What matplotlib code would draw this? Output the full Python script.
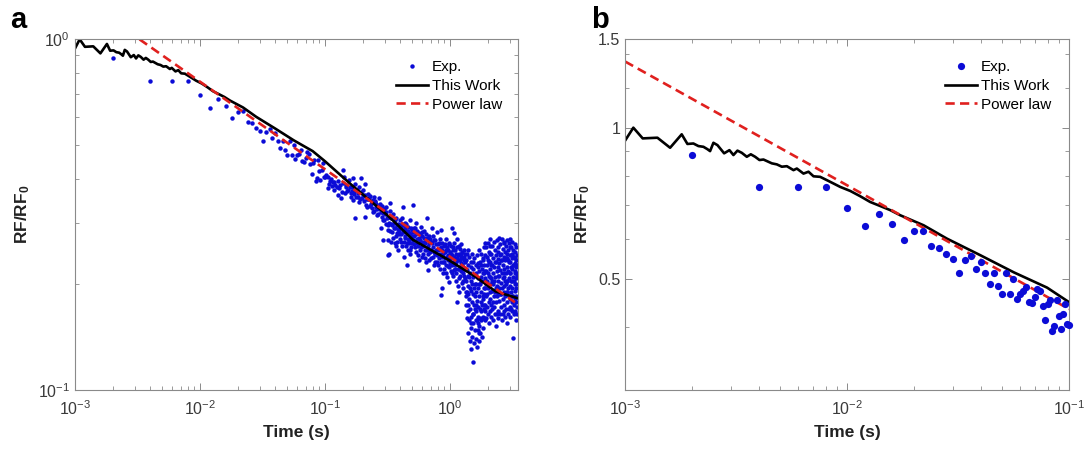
import numpy as np
import matplotlib
matplotlib.use("Agg")
import matplotlib.pyplot as plt
from matplotlib.ticker import FixedLocator, NullFormatter, LogLocator

plt.rcParams['font.family'] = ['Liberation Sans', 'DejaVu Sans']
plt.rcParams['mathtext.fontset'] = 'custom'
plt.rcParams['mathtext.rm'] = 'Liberation Sans'
plt.rcParams['mathtext.it'] = 'Liberation Sans:italic'
plt.rcParams['mathtext.bf'] = 'Liberation Sans:bold'

BLUE, RED, GREY, TXT = "#0b0bd6", "#e0201e", "#8a8a8a", "#3a3a3a"

# ---- experimental points, first 0.1 s (2 ms sampling) ----
exp_t_early = [0.002, 0.004, 0.006, 0.008, 0.010, 0.012, 0.014, 0.016, 0.018, 0.020,
               0.022, 0.024, 0.026, 0.028, 0.030, 0.032, 0.034, 0.036, 0.038, 0.040,
               0.042, 0.044, 0.046, 0.048, 0.050, 0.052, 0.054, 0.056, 0.058, 0.060,
               0.062, 0.064, 0.066, 0.068, 0.070, 0.072, 0.074, 0.076, 0.078, 0.080,
               0.082, 0.084, 0.086, 0.088, 0.090, 0.092, 0.094, 0.096, 0.098, 0.100]
exp_y_early = [0.882, 0.760, 0.762, 0.762, 0.692, 0.636, 0.674, 0.644, 0.598, 0.621,
               0.623, 0.581, 0.576, 0.560, 0.547, 0.514, 0.544, 0.555, 0.522, 0.541,
               0.514, 0.489, 0.514, 0.483, 0.467, 0.514, 0.467, 0.500, 0.456, 0.467,
               0.472, 0.482, 0.450, 0.447, 0.460, 0.476, 0.472, 0.441, 0.414, 0.445,
               0.454, 0.394, 0.403, 0.454, 0.421, 0.397, 0.425, 0.445, 0.406, 0.405]

# ---- experimental points beyond 0.1 s (panel a only) ----
exp_mid = [(0.105, 0.406), (0.108, 0.388), (0.115, 0.393), (0.105, 0.376), (0.118, 0.372),
           (0.130, 0.376), (0.126, 0.360), (0.138, 0.424), (0.134, 0.352), (0.143, 0.406),
           (0.146, 0.380), (0.156, 0.397), (0.162, 0.364), (0.168, 0.402), (0.175, 0.388),
           (0.188, 0.380), (0.194, 0.402), (0.203, 0.372), (0.210, 0.388), (0.226, 0.352),
           (0.233, 0.340), (0.251, 0.344), (0.255, 0.333), (0.272, 0.352), (0.281, 0.326),
           (0.291, 0.319), (0.306, 0.333), (0.299, 0.306), (0.317, 0.312), (0.175, 0.309),
           (0.210, 0.312), (0.281, 0.289), (0.317, 0.286), (0.291, 0.268), (0.317, 0.268),
           (0.317, 0.243), (0.242, 0.322), (0.262, 0.316), (0.197, 0.352), (0.188, 0.344),
           (0.168, 0.348), (0.218, 0.333), (0.112, 0.400), (0.121, 0.385), (0.128, 0.395),
           (0.150, 0.370), (0.158, 0.380), (0.165, 0.370), (0.172, 0.362), (0.180, 0.372),
           (0.185, 0.355), (0.200, 0.360), (0.215, 0.350), (0.222, 0.362), (0.238, 0.345),
           (0.245, 0.355), (0.258, 0.340), (0.266, 0.330), (0.275, 0.340), (0.285, 0.335),
           (0.295, 0.328), (0.310, 0.322),
           (0.102, 0.410), (0.110, 0.395), (0.114, 0.382), (0.119, 0.392), (0.124, 0.378),
           (0.132, 0.385), (0.136, 0.368), (0.140, 0.390), (0.145, 0.365), (0.148, 0.385),
           (0.153, 0.372), (0.160, 0.355), (0.163, 0.378), (0.170, 0.370), (0.177, 0.355),
           (0.182, 0.365), (0.190, 0.350), (0.195, 0.368), (0.205, 0.345), (0.208, 0.360),
           (0.213, 0.338), (0.220, 0.350), (0.228, 0.335), (0.230, 0.358), (0.236, 0.330),
           (0.240, 0.348), (0.248, 0.325), (0.253, 0.345), (0.260, 0.328), (0.264, 0.318),
           (0.270, 0.335), (0.278, 0.322), (0.283, 0.312), (0.288, 0.330), (0.293, 0.305),
           (0.300, 0.318), (0.305, 0.298), (0.312, 0.310), (0.318, 0.295)]

exp_band = [(0.322, 0.300), (0.328, 0.325), (0.333, 0.285), (0.338, 0.310), (0.343, 0.295),
            (0.348, 0.272), (0.352, 0.318), (0.357, 0.300), (0.362, 0.262), (0.366, 0.290),
            (0.371, 0.310), (0.376, 0.280), (0.381, 0.298), (0.386, 0.250), (0.390, 0.285),
            (0.395, 0.305), (0.398, 0.270), (0.330, 0.342), (0.327, 0.244),
            (0.403, 0.290), (0.408, 0.265), (0.413, 0.310), (0.418, 0.282), (0.423, 0.295),
            (0.428, 0.240), (0.433, 0.275), (0.438, 0.300), (0.443, 0.258), (0.448, 0.285),
            (0.452, 0.227), (0.457, 0.270), (0.462, 0.292), (0.467, 0.262), (0.472, 0.280),
            (0.477, 0.305), (0.482, 0.250), (0.487, 0.272), (0.492, 0.286), (0.497, 0.262),
            (0.420, 0.333),
            (0.503, 0.338), (0.508, 0.268), (0.515, 0.290), (0.522, 0.255), (0.530, 0.278),
            (0.537, 0.300), (0.545, 0.262), (0.552, 0.242), (0.560, 0.280), (0.568, 0.235),
            (0.575, 0.268), (0.582, 0.292), (0.590, 0.255), (0.598, 0.275), (0.606, 0.245),
            (0.614, 0.265), (0.622, 0.285), (0.630, 0.250), (0.638, 0.270), (0.646, 0.232),
            (0.655, 0.310), (0.663, 0.258), (0.672, 0.220), (0.680, 0.275), (0.690, 0.248),
            (0.700, 0.265), (0.710, 0.238), (0.720, 0.290), (0.730, 0.255), (0.740, 0.228),
            (0.750, 0.268), (0.760, 0.245), (0.770, 0.260), (0.780, 0.232), (0.790, 0.282),
            (0.800, 0.250), (0.810, 0.238), (0.820, 0.262), (0.830, 0.222), (0.840, 0.187),
            (0.845, 0.255), (0.850, 0.286),
            (0.860, 0.240), (0.870, 0.196), (0.880, 0.215), (0.890, 0.258), (0.900, 0.232),
            (0.910, 0.248), (0.920, 0.228), (0.930, 0.270), (0.940, 0.240), (0.950, 0.210),
            (0.960, 0.250), (0.970, 0.226), (0.980, 0.203), (0.990, 0.262), (1.000, 0.238),
            (1.010, 0.218), (1.020, 0.245), (1.030, 0.289), (1.040, 0.228), (1.050, 0.255),
            (1.060, 0.212), (1.070, 0.280), (1.080, 0.240), (1.090, 0.222),
            (1.100, 0.250), (1.110, 0.205), (1.120, 0.232), (1.130, 0.270), (1.140, 0.178),
            (1.150, 0.242), (1.160, 0.198), (1.170, 0.222), (1.180, 0.258), (1.190, 0.190),
            (1.200, 0.235), (1.210, 0.212), (1.220, 0.245), (1.230, 0.260), (1.240, 0.202),
            (1.250, 0.228), (1.260, 0.215), (1.270, 0.238), (1.280, 0.195), (1.290, 0.250),
            (1.300, 0.222), (1.310, 0.208), (1.320, 0.232), (1.330, 0.185),
            (0.325, 0.312), (0.335, 0.298), (0.345, 0.282), (0.355, 0.290), (0.360, 0.305),
            (0.368, 0.275), (0.374, 0.295), (0.379, 0.265), (0.384, 0.288), (0.393, 0.278),
            (0.400, 0.296), (0.340, 0.265), (0.370, 0.258),
            (0.405, 0.278), (0.410, 0.298), (0.415, 0.258), (0.425, 0.285), (0.430, 0.265),
            (0.436, 0.290), (0.440, 0.272), (0.446, 0.298), (0.450, 0.262), (0.455, 0.280),
            (0.460, 0.250), (0.465, 0.285), (0.470, 0.268), (0.475, 0.244), (0.480, 0.278),
            (0.485, 0.290), (0.490, 0.255), (0.495, 0.275),
            (0.505, 0.282), (0.512, 0.260), (0.518, 0.275), (0.526, 0.290), (0.534, 0.248),
            (0.541, 0.270), (0.548, 0.285), (0.556, 0.258), (0.564, 0.272), (0.572, 0.250),
            (0.579, 0.278), (0.586, 0.265), (0.594, 0.240), (0.602, 0.282), (0.610, 0.258),
            (0.618, 0.272), (0.626, 0.238), (0.634, 0.262), (0.642, 0.278), (0.650, 0.250),
            (0.660, 0.272), (0.668, 0.245), (0.676, 0.262), (0.685, 0.235), (0.695, 0.270),
            (0.705, 0.250), (0.715, 0.262), (0.725, 0.240), (0.735, 0.275), (0.745, 0.248),
            (0.755, 0.232), (0.765, 0.268), (0.775, 0.250), (0.785, 0.242), (0.795, 0.260),
            (0.805, 0.228), (0.815, 0.252), (0.825, 0.270), (0.835, 0.245), (0.848, 0.232),
            (0.855, 0.262), (0.865, 0.250), (0.875, 0.232), (0.885, 0.245), (0.895, 0.222),
            (0.905, 0.260), (0.915, 0.238), (0.925, 0.250), (0.935, 0.215), (0.945, 0.255),
            (0.955, 0.235), (0.965, 0.242), (0.975, 0.260), (0.985, 0.225), (0.995, 0.248),
            (1.005, 0.230), (1.015, 0.258), (1.025, 0.238), (1.035, 0.215), (1.045, 0.242),
            (1.055, 0.232), (1.065, 0.250), (1.075, 0.220), (1.085, 0.262), (1.095, 0.236),
            (1.105, 0.228), (1.115, 0.245), (1.125, 0.215), (1.135, 0.238), (1.145, 0.255),
            (1.155, 0.222), (1.165, 0.235), (1.175, 0.208), (1.185, 0.245), (1.195, 0.225),
            (1.205, 0.252), (1.215, 0.230), (1.225, 0.218), (1.235, 0.240), (1.245, 0.228),
            (1.255, 0.248), (1.265, 0.205), (1.275, 0.225), (1.285, 0.240), (1.295, 0.212),
            (1.305, 0.235), (1.315, 0.222), (1.325, 0.245)]

# plume between ~1.3 s and ~1.9 s : time -> values
exp_plume = [(1.34, (0.235, 0.205, 0.175, 0.190)), (1.36, (0.220, 0.190, 0.160, 0.245)),
             (1.38, (0.250, 0.212, 0.168, 0.188)), (1.40, (0.228, 0.198, 0.145, 0.175)),
             (1.42, (0.240, 0.182, 0.158, 0.210)), (1.44, (0.215, 0.170, 0.138, 0.195)),
             (1.46, (0.232, 0.192, 0.131, 0.155)), (1.48, (0.205, 0.162, 0.150, 0.225)),
             (1.50, (0.245, 0.178, 0.142, 0.200)), (1.52, (0.222, 0.188, 0.120, 0.165)),
             (1.54, (0.210, 0.165, 0.155, 0.232)), (1.56, (0.238, 0.175, 0.136, 0.195)),
             (1.58, (0.200, 0.148, 0.185, 0.170)), (1.60, (0.228, 0.168, 0.140, 0.200)),
             (1.62, (0.215, 0.158, 0.190, 0.175)), (1.64, (0.242, 0.180, 0.133, 0.158)),
             (1.66, (0.208, 0.162, 0.148, 0.230)), (1.68, (0.225, 0.172, 0.195, 0.155)),
             (1.70, (0.250, 0.152, 0.138, 0.200)), (1.72, (0.218, 0.185, 0.160, 0.145)),
             (1.74, (0.232, 0.200, 0.145, 0.170)), (1.76, (0.210, 0.168, 0.178, 0.228)),
             (1.78, (0.245, 0.158, 0.190, 0.205)), (1.80, (0.222, 0.175, 0.142, 0.160)),
             (1.82, (0.238, 0.205, 0.162, 0.185)), (1.84, (0.215, 0.182, 0.150, 0.235)),
             (1.86, (0.255, 0.170, 0.195, 0.215)), (1.88, (0.228, 0.188, 0.160, 0.175)),
             (1.90, (0.242, 0.208, 0.175, 0.158)), (1.92, (0.262, 0.218, 0.168, 0.195))]

# dense tail from ~1.9 s to the end
exp_tail = [(1.95, (0.255, 0.218, 0.185, 0.160, 0.200)), (1.98, (0.240, 0.205, 0.172, 0.228, 0.188)),
            (2.01, (0.262, 0.195, 0.165, 0.235, 0.215)), (2.04, (0.248, 0.212, 0.178, 0.155, 0.232)),
            (2.07, (0.232, 0.190, 0.168, 0.258, 0.210)), (2.10, (0.270, 0.222, 0.182, 0.200, 0.245)),
            (2.13, (0.245, 0.208, 0.162, 0.175, 0.228)), (2.16, (0.258, 0.228, 0.192, 0.170, 0.205)),
            (2.20, (0.238, 0.200, 0.158, 0.215, 0.178)), (2.24, (0.265, 0.185, 0.172, 0.225, 0.205)),
            (2.28, (0.250, 0.210, 0.165, 0.190, 0.232)), (2.32, (0.242, 0.232, 0.178, 0.152, 0.195)),
            (2.36, (0.268, 0.198, 0.185, 0.218, 0.165)), (2.40, (0.255, 0.225, 0.168, 0.205, 0.188)),
            (2.44, (0.236, 0.192, 0.160, 0.248, 0.212)), (2.48, (0.272, 0.212, 0.180, 0.230, 0.195)),
            (2.52, (0.260, 0.220, 0.188, 0.165, 0.242)), (2.56, (0.245, 0.202, 0.172, 0.235, 0.188)),
            (2.60, (0.270, 0.215, 0.158, 0.195, 0.235)), (2.64, (0.252, 0.228, 0.182, 0.208, 0.165)),
            (2.68, (0.240, 0.198, 0.168, 0.262, 0.215)), (2.72, (0.265, 0.210, 0.175, 0.222, 0.190)),
            (2.76, (0.248, 0.235, 0.185, 0.162, 0.205)), (2.80, (0.258, 0.200, 0.170, 0.215, 0.238)),
            (2.84, (0.238, 0.225, 0.190, 0.155, 0.205)), (2.88, (0.268, 0.205, 0.178, 0.245, 0.190)),
            (2.92, (0.250, 0.218, 0.165, 0.195, 0.235)), (2.96, (0.262, 0.232, 0.185, 0.208, 0.170)),
            (3.00, (0.242, 0.198, 0.172, 0.255, 0.215)), (3.04, (0.270, 0.215, 0.182, 0.162, 0.232)),
            (3.08, (0.255, 0.225, 0.190, 0.170, 0.205)), (3.12, (0.245, 0.205, 0.168, 0.238, 0.185)),
            (3.16, (0.265, 0.222, 0.178, 0.195, 0.242)), (3.20, (0.250, 0.210, 0.141, 0.185, 0.228)),
            (3.24, (0.240, 0.228, 0.175, 0.165, 0.205)), (3.28, (0.260, 0.200, 0.182, 0.215, 0.238)),
            (3.32, (0.248, 0.218, 0.168, 0.192, 0.230)), (3.36, (0.235, 0.208, 0.178, 0.158, 0.195)),
            (3.40, (0.255, 0.225, 0.185, 0.200, 0.215)), (3.44, (0.242, 0.212, 0.172, 0.165, 0.228))]

# ---- "This Work" model curve ----
work_t_early = [1.000e-3, 1.090e-3, 1.201e-3, 1.399e-3, 1.596e-3, 1.800e-3, 1.910e-3, 2.032e-3,
                2.141e-3, 2.255e-3, 2.350e-3, 2.416e-3, 2.501e-3, 2.608e-3, 2.795e-3, 2.953e-3,
                3.078e-3, 3.209e-3, 3.357e-3, 3.536e-3, 3.686e-3, 3.855e-3, 4.033e-3, 4.203e-3,
                4.427e-3, 4.584e-3, 4.828e-3, 5.085e-3, 5.356e-3, 5.739e-3, 5.941e-3, 6.366e-3,
                6.705e-3, 7.063e-3, 7.568e-3, 8.111e-3, 8.691e-3, 9.316e-3, 1.034e-2, 1.147e-2,
                1.272e-2, 1.411e-2, 1.565e-2, 1.737e-2, 2.212e-2, 2.818e-2, 3.983e-2, 5.632e-2,
                7.962e-2, 0.100]
work_y_early = [0.942, 1.000, 0.952, 0.955, 0.912, 0.970, 0.928, 0.930,
                0.919, 0.916, 0.906, 0.898, 0.933, 0.923, 0.889, 0.902,
                0.882, 0.900, 0.891, 0.875, 0.885, 0.875, 0.862, 0.864,
                0.855, 0.849, 0.845, 0.836, 0.838, 0.823, 0.829, 0.810,
                0.817, 0.800, 0.798, 0.786, 0.774, 0.762, 0.748, 0.730,
                0.711, 0.698, 0.685, 0.669, 0.639, 0.601, 0.557, 0.515,
                0.480, 0.449]
work_t_late = [0.157, 0.325, 0.506, 0.953, 1.58, 2.32, 3.50]
work_y_late = [0.389, 0.312, 0.268, 0.236, 0.211, 0.191, 0.1826]

# ---- power-law fit (straight line on log-log) ----
power_t_a, power_y_a = [3.28e-3, 3.30], [1.0, 0.178]
power_t_b, power_y_b = [1.0e-3, 0.100], [1.355, 0.435]

mid_t, mid_y = zip(*exp_mid)
band_t, band_y = zip(*exp_band)
plume_t = [t for t, ys in exp_plume for _ in ys]; plume_y = [y for _, ys in exp_plume for y in ys]
tail_t = [t for t, ys in exp_tail for _ in ys]; tail_y = [y for _, ys in exp_tail for y in ys]
exp_t_a = np.concatenate([exp_t_early, mid_t, band_t, plume_t, tail_t])
exp_y_a = np.concatenate([exp_y_early, mid_y, band_y, plume_y, tail_y])


def style(ax):
    ax.set_xscale("log"); ax.set_yscale("log")
    for s in ax.spines.values():
        s.set_color(GREY); s.set_linewidth(0.8)
    ax.tick_params(which="both", direction="in", top=True, right=True, colors=GREY,
                   labelcolor=TXT, labelsize=11.5)
    ax.tick_params(which="major", length=5, width=0.7)
    ax.tick_params(which="minor", length=3, width=0.6)
    ax.tick_params(axis="x", which="major", pad=7)
    ax.xaxis.set_minor_formatter(NullFormatter()); ax.yaxis.set_minor_formatter(NullFormatter())
    ax.set_xlabel("Time (s)", fontsize=12.5, fontweight="bold", color="#222222", labelpad=5)
    ax.set_ylabel(r"RF/RF$_\mathbf{0}$", fontsize=12.5, fontweight="bold", color="#222222")


fig = plt.figure(figsize=(10.84, 4.53), dpi=100)
axa = fig.add_axes([0.0692, 0.139, 0.4087, 0.7742])
axb = fig.add_axes([0.5766, 0.139, 0.4096, 0.7742])

# panel a
axa.plot(exp_t_a, exp_y_a, "o", ms=3.2, mec="none", color=BLUE, label="Exp.")
axa.plot(np.r_[work_t_early, work_t_late], np.r_[work_y_early, work_y_late], color="black", lw=1.9,
         label="This Work")
axa.plot(power_t_a, power_y_a, color=RED, lw=1.9, dashes=(3.5, 2), label="Power law")
style(axa)
axa.set_xlim(1e-3, 3.5); axa.set_ylim(0.1, 1.0)
axa.xaxis.set_major_locator(LogLocator(base=10, numticks=10))
axa.legend(loc="upper left", bbox_to_anchor=(0.725, 0.94), frameon=False, fontsize=11,
           handlelength=2.1, handletextpad=0.25, labelspacing=0.3, borderaxespad=0, borderpad=0)

# panel b
axb.plot(exp_t_early, exp_y_early, "o", ms=5.2, mec="none", color=BLUE, label="Exp.", clip_on=False,
         zorder=3)
axb.plot(work_t_early, work_y_early, color="black", lw=1.9, label="This Work")
axb.plot(power_t_b, power_y_b, color=RED, lw=1.9, dashes=(3.5, 2), label="Power law")
style(axb)
axb.set_xlim(1e-3, 0.1); axb.set_ylim(0.3, 1.5)
axb.yaxis.set_major_locator(FixedLocator([0.5, 1.0, 1.5]))
axb.set_yticklabels(["0.5", "1", "1.5"])
axb.yaxis.set_minor_locator(FixedLocator([0.4, 0.6, 0.7, 0.8, 0.9, 1.2, 1.4]))
axb.legend(loc="upper left", bbox_to_anchor=(0.72, 0.94), frameon=False, fontsize=11,
           handlelength=2.1, handletextpad=0.25, labelspacing=0.3, borderaxespad=0, borderpad=0)

fig.text(0.009, 0.955, "a", fontsize=21, fontweight="bold", va="center")
fig.text(0.545, 0.955, "b", fontsize=21, fontweight="bold", va="center")

fig.savefig("out.png", dpi=100)
